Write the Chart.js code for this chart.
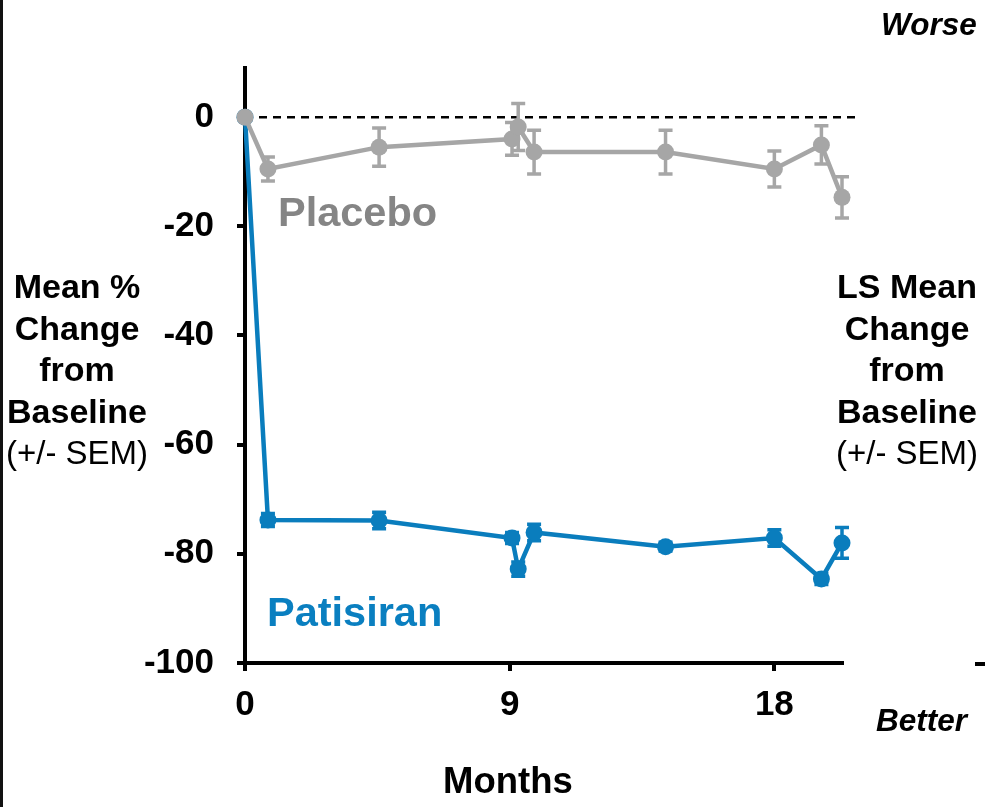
<!DOCTYPE html>
<html>
<head>
<meta charset="utf-8">
<script src="https://cdn.jsdelivr.net/npm/chart.js@4"></script>
<style>
  html, body { margin: 0; padding: 0; background: #fff; }
  #wrap { position: relative; width: 985px; height: 807px; overflow: hidden; }
  #wrap:before { content: ""; position: absolute; left: 0; top: 0; width: 3px; height: 807px; background: #111; }
  canvas { position: absolute; left: 0; top: 0; }
  .lbl { position: absolute; font-family: "Liberation Sans", Arial, sans-serif; color: #000; white-space: nowrap; }
  .title { font-size: 34px; line-height: 41.5px; font-weight: bold; text-align: center; width: 170px; }
  .title span { font-weight: normal; font-size: 33px; }
  .note { font-size: 31.5px; font-weight: bold; font-style: italic; line-height: 36px; }
  .series { font-size: 41.5px; font-weight: bold; line-height: 48px; }
</style>
</head>
<body>
<div id="wrap">
  <canvas id="chart" width="985" height="807"></canvas>
  <div class="lbl title" style="left:-8px; top:266px;">Mean %<br>Change<br>from<br>Baseline<br><span>(+/- SEM)</span></div>
  <div class="lbl title" style="left:822px; top:266px;">LS Mean<br>Change<br>from<br>Baseline<br><span>(+/- SEM)</span></div>
  <div class="lbl note" style="left:881px; top:6px;">Worse</div>
  <div class="lbl note" style="left:876px; top:702px;">Better</div>
  <div class="lbl note" style="left:443px; top:761px; font-style:normal; font-size:36.5px; line-height:40px;">Months</div>
  <div class="lbl series" style="left:278px; top:188px; color:#858585;">Placebo</div>
  <div class="lbl series" style="left:267px; top:588px; color:#0a7fc0;">Patisiran</div>
</div>
<script>
const months = [0, 0.78, 4.56, 9.08, 9.29, 9.83, 14.3, 18.0, 19.6, 20.3];
const placebo = [0, -9.5, -5.5, -4.0, -1.8, -6.4, -6.4, -9.5, -5.1, -14.7];
const placeboSem = [0, 2.2, 3.5, 3.0, 4.3, 4.0, 4.0, 3.3, 3.5, 3.8];
const patisiran = [0, -73.8, -73.9, -77.1, -82.8, -76.1, -78.7, -77.1, -84.6, -78.0];
const patisiranSem = [0, 1.2, 1.5, 1.0, 1.3, 1.5, 0.8, 1.5, 1.0, 2.8];
const xTicks = [0, 9, 18];
const yTicks = [0, -20, -40, -60, -80, -100];

const GRAY = "#a6a6a6";
const BLUE = "#0a7dbd";

function points(ys) {
    return months.map((m, i) => ({ x: m, y: ys[i] }));
}

// dashed zero reference, error bars and the stray tick on the right
const extras = {
    id: "extras",
    beforeDatasetsDraw(chart) {
        const ctx = chart.ctx;
        const xs = chart.scales.x;
        const ys = chart.scales.y;

        ctx.save();
        ctx.strokeStyle = "#000";
        ctx.lineWidth = 2.5;
        ctx.setLineDash([8, 6]);
        ctx.beginPath();
        ctx.moveTo(xs.getPixelForValue(0), ys.getPixelForValue(0));
        ctx.lineTo(xs.getPixelForValue(20.85), ys.getPixelForValue(0));
        ctx.stroke();
        ctx.setLineDash([]);

        const bars = [[placebo, placeboSem, GRAY], [patisiran, patisiranSem, BLUE]];
        bars.forEach(([vals, sem, color]) => {
            ctx.strokeStyle = color;
            ctx.lineWidth = 3.5;
            vals.forEach((v, i) => {
                if (!sem[i]) return;
                const px = xs.getPixelForValue(months[i]);
                const top = ys.getPixelForValue(v + sem[i]);
                const bot = ys.getPixelForValue(v - sem[i]);
                ctx.beginPath();
                ctx.moveTo(px, top); ctx.lineTo(px, bot);
                ctx.moveTo(px - 7, top); ctx.lineTo(px + 7, top);
                ctx.moveTo(px - 7, bot); ctx.lineTo(px + 7, bot);
                ctx.stroke();
            });
        });

        ctx.fillStyle = "#000";
        ctx.fillRect(975, ys.getPixelForValue(-100) - 1, 10, 4);
        ctx.restore();
    }
};

new Chart(document.getElementById("chart"), {
    type: "line",
    data: {
        datasets: [
            {
                label: "Placebo",
                data: points(placebo),
                borderColor: GRAY,
                backgroundColor: GRAY,
                borderWidth: 4.5,
                pointRadius: 8.5,
                pointBorderWidth: 0,
                clip: false
            },
            {
                label: "Patisiran",
                data: points(patisiran),
                borderColor: BLUE,
                backgroundColor: BLUE,
                borderWidth: 4.5,
                pointRadius: 8.5,
                pointBorderWidth: 0,
                clip: false
            }
        ]
    },
    options: {
        responsive: false,
        animation: false,
        layout: { padding: { top: 68, right: 143, left: 0, bottom: 0 } },
        plugins: { legend: { display: false }, tooltip: { enabled: false } },
        scales: {
            x: {
                type: "linear",
                min: 0,
                max: 20.3,
                afterBuildTicks: s => { s.ticks = xTicks.map(v => ({ value: v })); },
                afterFit: s => { s.height = 144; },
                border: { display: true, color: "#000", width: 4 },
                grid: { drawOnChartArea: false, drawTicks: true, tickLength: 8, color: "#000", lineWidth: 4 },
                ticks: {
                    padding: 13,
                    color: "#000",
                    font: { family: "Liberation Sans", weight: "bold", size: 35 }
                }
            },
            y: {
                min: -100,
                max: 9,
                afterBuildTicks: s => { s.ticks = yTicks.map(v => ({ value: v })); },
                afterFit: s => { s.width = 245; },
                border: { display: true, color: "#000", width: 4 },
                grid: { drawOnChartArea: false, drawTicks: true, tickLength: 8, color: "#000", lineWidth: 4 },
                ticks: {
                    padding: 23,
                    color: "#000",
                    font: { family: "Liberation Sans", weight: "bold", size: 35 }
                }
            }
        }
    },
    plugins: [extras]
});
</script>
</body>
</html>
